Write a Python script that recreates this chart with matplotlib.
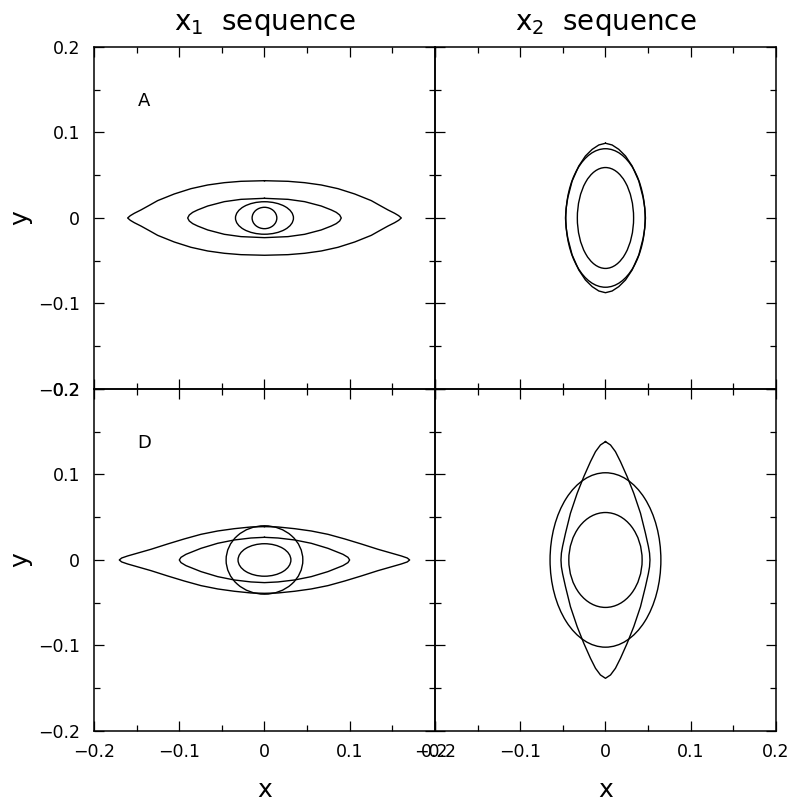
import numpy as np
import matplotlib
matplotlib.use("Agg")
from matplotlib import pyplot as plt
from matplotlib.patches import Ellipse

# tick values / labels shared by all panels
ticks = [-0.2, -0.1, 0.0, 0.1, 0.2]
tick_labels = ["\u22120.2", "\u22120.1", "0", "0.1", "0.2"]
col_titles = ["x$_1$  sequence", "x$_2$  sequence"]

# orbits: ellipses as (half-width, half-height)
ellA = [(0.034, 0.019), (0.0145, 0.0125)]
ellB = [(0.033, 0.0590), (0.0465, 0.081)]
ellC = [(0.045, 0.040), (0.031, 0.019)]
ellD = [(0.065, 0.102), (0.043, 0.0555)]

# lens-shaped orbits: first-quadrant points (x, y), mirrored to close
lensA_outer_x = [0.0, 0.0276, 0.0471, 0.0666, 0.0862, 0.1058, 0.1253,
                 0.1351, 0.1449, 0.1527, 0.1574, 0.1605]
lensA_outer_y = [0.0436, 0.0429, 0.0413, 0.0386, 0.0343, 0.0281, 0.0203,
                 0.0148, 0.0094, 0.0055, 0.0027, 0.0]
lensA_inner_x = [0.0, 0.0276, 0.0471, 0.0666, 0.0784, 0.0842, 0.0882, 0.0901]
lensA_inner_y = [0.0230, 0.0218, 0.0191, 0.0140, 0.0094, 0.0066, 0.0035, 0.0]

lensB_x = [0.0, 0.0078, 0.0156, 0.0235, 0.0313, 0.0391, 0.0442, 0.0462,
           0.0469]
lensB_y = [0.0874, 0.0854, 0.0803, 0.0725, 0.0608, 0.0433, 0.0237, 0.0110,
           0.0]

lensC_outer_x = [0.0, 0.0158, 0.0354, 0.0549, 0.0745, 0.0941, 0.1136,
                 0.1331, 0.1605, 0.1675, 0.1703]
lensC_outer_y = [0.0390, 0.0386, 0.0366, 0.0339, 0.0300, 0.0246, 0.0187,
                 0.0125, 0.0047, 0.0023, 0.0]
lensC_inner_x = [0.0, 0.0158, 0.0354, 0.0549, 0.0745, 0.0921, 0.0979, 0.0999]
lensC_inner_y = [0.0265, 0.0257, 0.0234, 0.0195, 0.0136, 0.0066, 0.0031, 0.0]

lensD_x = [0.0, 0.0059, 0.0117, 0.0176, 0.0254, 0.0332, 0.0411, 0.0469,
           0.0503, 0.0517, 0.0522]
lensD_y = [0.1384, 0.1345, 0.1267, 0.1150, 0.0975, 0.0780, 0.0546, 0.0312,
           0.0160, 0.0080, 0.0]


def draw_lens(ax, qx, qy):
    qx = np.asarray(qx)
    qy = np.asarray(qy)
    # quadrant I -> IV -> III -> II
    xs = np.concatenate([qx, qx[::-1], -qx, -qx[::-1]])
    ys = np.concatenate([qy, -qy[::-1], -qy, qy[::-1]])
    ax.plot(xs, ys, color="black", lw=1.0, solid_joinstyle="round")


def draw_ellipses(ax, ells):
    for a, b in ells:
        ax.add_patch(Ellipse((0, 0), 2 * a, 2 * b, fill=False,
                             edgecolor="black", lw=1.0))


fig = plt.figure(figsize=(7.91, 8.06), dpi=100)
L, R, B, T = 0.1188, 0.981, 0.0931, 0.9417
W = (R - L) / 2
H = (T - B) / 2
axes = {}
for r in range(2):
    for c in range(2):
        ax = fig.add_axes([L + c * W, B + (1 - r) * H, W, H])
        ax.set_xlim(-0.2, 0.2)
        ax.set_ylim(-0.2, 0.2)
        ax.set_xticks(ticks)
        ax.set_yticks(ticks)
        ax.set_xticks(np.arange(-0.15, 0.2, 0.1), minor=True)
        ax.set_yticks(np.arange(-0.15, 0.2, 0.1), minor=True)
        ax.tick_params(which="both", direction="in", top=True, right=True,
                       width=0.9, labelsize=12.5, colors="black")
        ax.tick_params(which="major", length=7.5)
        ax.tick_params(which="minor", length=4.5)
        ax.tick_params(axis="y", pad=10)
        ax.tick_params(axis="x", pad=9)
        for s in ax.spines.values():
            s.set_linewidth(1.1)
        if c == 0:
            ax.set_yticklabels(tick_labels)
            ax.set_ylabel("y", fontsize=18)
            ax.yaxis.set_label_coords(-0.18, 0.5)
        else:
            ax.set_yticklabels([])
        if r == 1:
            ax.set_xticklabels(tick_labels)
            ax.set_xlabel("x", fontsize=18, va="center")
            ax.xaxis.set_label_coords(0.5, -0.172)
        else:
            ax.set_xticklabels([])
            ax.set_title(col_titles[c], fontsize=20, pad=12)
        ax.set_facecolor("none")
        axes[(r, c)] = ax

# panel A
ax = axes[(0, 0)]
draw_lens(ax, lensA_outer_x, lensA_outer_y)
draw_lens(ax, lensA_inner_x, lensA_inner_y)
draw_ellipses(ax, ellA)
ax.text(-0.141, 0.137, "A", fontsize=13, ha="center", va="center")

# panel B
ax = axes[(0, 1)]
draw_lens(ax, lensB_x, lensB_y)
draw_ellipses(ax, ellB)

# panel D (bottom left)
ax = axes[(1, 0)]
draw_lens(ax, lensC_outer_x, lensC_outer_y)
draw_lens(ax, lensC_inner_x, lensC_inner_y)
draw_ellipses(ax, ellC)
ax.text(-0.141, 0.137, "D", fontsize=13, ha="center", va="center")

# bottom right
ax = axes[(1, 1)]
draw_lens(ax, lensD_x, lensD_y)
draw_ellipses(ax, ellD)

fig.savefig("out.png", dpi=100)
